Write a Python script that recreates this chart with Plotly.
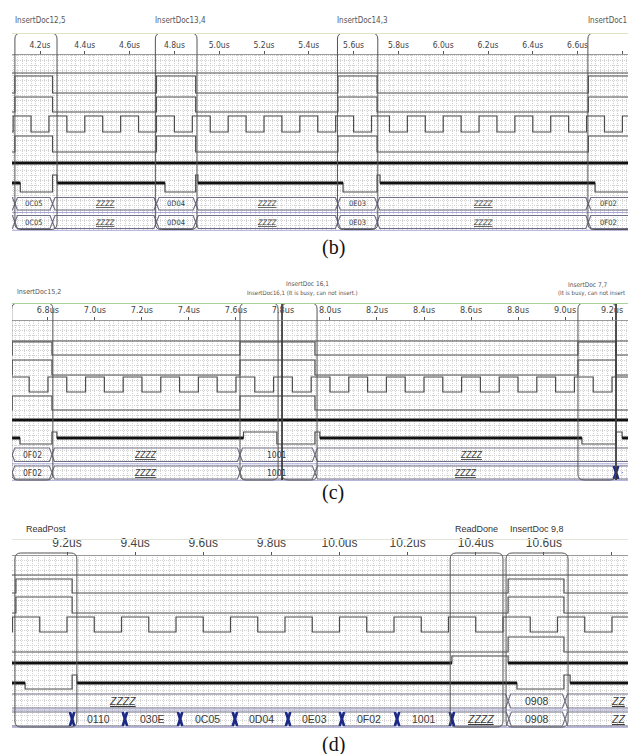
import plotly.graph_objects as go

W, H = 628, 754

# ---------------- data (times in microseconds) ----------------
clock_rise_us = [4.08, 4.24, 4.40, 4.56, 4.72, 4.88, 5.04, 5.20, 5.36, 5.52,
                 5.68, 5.84, 6.00, 6.16, 6.32, 6.48, 6.64, 6.80, 6.96, 7.12,
                 7.28, 7.44, 7.60, 7.76, 7.92, 8.08, 8.24, 8.40, 8.56, 8.72,
                 8.88, 9.04, 9.20, 9.36, 9.52, 9.68, 9.84, 10.00, 10.16, 10.32,
                 10.48, 10.64, 10.80, 10.96]
clock_fall_us = [4.00, 4.16, 4.32, 4.48, 4.64, 4.80, 4.96, 5.12, 5.28, 5.44,
                 5.60, 5.76, 5.92, 6.08, 6.24, 6.40, 6.56, 6.72, 6.88, 7.04,
                 7.20, 7.36, 7.52, 7.68, 7.84, 8.00, 8.16, 8.32, 8.48, 8.64,
                 8.80, 8.96, 9.12, 9.28, 9.44, 9.60, 9.76, 9.92, 10.08, 10.24,
                 10.40, 10.56, 10.72, 10.88]

# panel (b)
b_pulse_start = [4.088, 4.72, 5.53, 6.648]
b_pulse_end = [4.256, 4.895, 5.705]
b_row5_start = [4.088, 4.72, 5.53, 6.648]
b_row5_end = [4.256, 4.895, 5.705]
b_row7_t = [4.112, 4.256, 4.276, 4.758, 4.895, 4.905, 5.553, 5.705, 5.718, 6.678]
b_row7_s = ['L', 'H', 'Z', 'L', 'H', 'Z', 'L', 'H', 'Z', 'L']
b_bus_t = [4.088, 4.256, 4.72, 4.895, 5.53, 5.705, 6.648]
b_bus_labels = ['', '0C05', 'ZZZZ', '0D04', 'ZZZZ', '0E03', 'ZZZZ', '0F02']
b_box_start = [4.088, 4.715, 5.528, 6.646]
b_box_end = [4.276, 4.901, 5.708, 6.90]
b_box_labels = ['InsertDoc12,5', 'InsertDoc13,4', 'InsertDoc14,3', 'InsertDoc1']

# panel (c)
c_pulse_start = [6.648, 7.617, 9.055]
c_pulse_end = [6.817, 7.936, 9.217]
c_row5_start = [6.648, 7.617]
c_row5_end = [6.817, 7.936]
c_row7_t = [6.681, 6.817, 6.838, 7.632, 7.774, 7.936, 7.957, 9.072, 9.217, 9.243]
c_row7_s = ['L', 'H', 'Z', 'H', 'L', 'H', 'Z', 'L', 'H', 'Z']
c_bus1_t = [6.648, 6.817, 7.617, 7.936]
c_bus1_labels = ['', '0F02', 'ZZZZ', '1001', 'ZZZZ']
c_bus2_t = [6.648, 6.817, 7.617, 7.936, 9.217]
c_bus2_labels = ['', '0F02', 'ZZZZ', '1001', 'ZZZZ', '·']
c_box_start = [6.646, 7.617, 7.796, 9.055]
c_box_end = [6.821, 7.779, 7.945, 9.217]
c_cursor_us = [7.796, 9.217]
c_label_texts = ['InsertDoc15,2', 'InsertDoc 16,1',
                 'InsertDoc16,1 (It is busy, can not insert.)',
                 'InsertDoc 7,7', '(It is busy, can not insert']

# panel (d)
d_pulse_start = [9.05, 10.495]
d_pulse_end = [9.215, 10.659]
d_row5_start = [10.495]
d_row5_end = [10.659]
d_row6_t = [10.33, 10.495]
d_row6_s = ['H', 'Z']
d_row7_t = [9.077, 9.215, 9.229, 10.521, 10.659, 10.677]
d_row7_s = ['L', 'H', 'Z', 'L', 'H', 'Z']
d_bus1_t = [10.495, 10.662]
d_bus1_labels = ['ZZZZ', '0908', 'ZZ']
d_bus2_t = [9.215, 9.37, 9.532, 9.693, 9.849, 10.007, 10.169, 10.33, 10.497, 10.662]
d_bus2_labels = ['', '0110', '030E', '0C05', '0D04', '0E03', '0F02', '1001', 'ZZZZ', '0908', 'ZZ']
d_box_start = [9.047, 10.325, 10.489]
d_box_end = [9.229, 10.48, 10.671]
d_box_labels = ['ReadPost', 'ReadDone', 'InsertDoc 9,8']

captions = ['(b)', '(c)', '(d)']

# ---------------- layout geometry (pixels) ----------------
LEFT = 12
PANELS = [
    dict(ax='', t0=4.075, t1=6.825, top=33, base=54, bottom=231, box_top=33, box_bot=229.5,
         row1=73, row2=(76, 93), row3=(97, 112), clk=(116, 132), row5=(136, 152),
         row6=(156, 163, 170), row7=(175, 183, 192), bus1=(197.5, 210), bus2=(215.5, 228.5),
         sep=[212.5, 230.3], minor=0.02, tickfont=8.5, busfont=7.5, topline='#dfe3c4', cap_y=247),
    dict(ax='2', t0=6.647, t1=9.268, top=303, base=320, bottom=481, box_top=303, box_bot=480,
         row1=341, row2=(342, 355), row3=(360, 375), clk=(377, 392), row5=(396, 410),
         row6=(413, 420, 427), row7=(432, 438, 444), bus1=(448, 461.5), bus2=(466, 479),
         sep=[463.8, 480.3], minor=0.02, tickfont=9, busfont=8.5, topline='#a9d39b', cap_y=492),
    dict(ax='3', t0=9.0385, t1=10.847, top=539, base=555, bottom=728, box_top=553, box_bot=727,
         row1=575, row2=(579, 593), row3=(597, 613), clk=(617, 632), row5=(637, 652),
         row6=(656, 663, 670), row7=(675, 683, 689), bus1=(694, 708), bus2=(712, 726),
         sep=[710, 727.3], minor=0.2 / 12, tickfont=12, busfont=10.5, topline='#e4e4d6', cap_y=744),
]
for P in PANELS:
    P['scale'] = (W - LEFT) / (P['t1'] - P['t0'])

THIN = '#4d4d4d'
THICK = '#111111'
BUSC = '#6e6e86'
SEPC = '#a9a9d9'
BLUE = '#1c2a86'
GRID = '#d2d2d2'
GDASH = '1px,1px'
NARROW = 'Liberation Sans Narrow, Arial Narrow, DejaVu Sans Condensed, Liberation Sans, Arial, sans-serif'
SANS = 'Liberation Sans, Arial, sans-serif'

fig = go.Figure()
shapes = []
annotations = []


def px_x(P, t):
    return LEFT + (t - P['t0']) * P['scale']


def ann(xpx, ypx, text, size, color='#444', family=SANS, xanchor='center'):
    annotations.append(dict(x=xpx / W, y=1 - ypx / H, xref='paper', yref='paper', text=text,
                            showarrow=False, xanchor=xanchor, yanchor='middle',
                            font=dict(size=size, color=color, family=family)))


def line(P, x, y, color=THIN, width=1.2, shape='linear'):
    fig.add_trace(go.Scatter(x=x, y=y, mode='lines', line=dict(color=color, width=width, shape=shape),
                             hoverinfo='skip', showlegend=False,
                             xaxis='x' + P['ax'], yaxis='y' + P['ax']))


def digital(P, ts, lvls, init):
    xs = [P['t0'] - 0.5]
    ys = [init]
    for t, l in sorted(zip(ts, lvls)):
        xs.append(t)
        ys.append(l)
    xs.append(P['t1'] + 0.5)
    ys.append(ys[-1])
    return xs, ys


def pulses(P, starts, ends, lv):
    hi, lo = lv
    ts = list(starts) + list(ends)
    ls = [hi] * len(starts) + [lo] * len(ends)
    xs, ys = digital(P, ts, ls, lo)
    line(P, xs, ys, shape='hv')


def tri_level(P, ts, states, lv, init='Z'):
    hi, z, lo = lv
    m = {'H': hi, 'Z': z, 'L': lo}
    xs, ys = digital(P, ts, [m[s] for s in states], m[init])
    line(P, xs, ys, shape='hv')
    bounds = [P['t0'] - 0.5] + list(ts) + [P['t1'] + 0.5]
    seq = [init] + list(states)
    tx, ty = [], []
    for i, s in enumerate(seq):
        if s == 'Z':
            tx += [bounds[i], bounds[i + 1], None]
            ty += [z, z, None]
    line(P, tx, ty, color=THICK, width=3)


def bus(P, trans, labels, rows, blue=(), edge_last=False):
    top, bot = rows
    mid = (top + bot) / 2
    s = 2.5 / P['scale']
    xt, yt, xb, yb = [P['t0'] - 0.5], [top], [P['t0'] - 0.5], [bot]
    for t in trans:
        xt += [t - s, t, t + s]
        yt += [top, mid, top]
        xb += [t - s, t, t + s]
        yb += [bot, mid, bot]
    xt.append(P['t1'] + 0.5)
    yt.append(top)
    xb.append(P['t1'] + 0.5)
    yb.append(bot)
    line(P, xt + [None] + xb, yt + [None] + yb, color=BUSC, width=1.1)
    if blue:
        s2 = 2.2 / P['scale']
        bx, by = [], []
        for i in blue:
            t = trans[i]
            bx += [t - s2, t + s2, None, t - s2, t + s2, None]
            by += [top, bot, None, bot, top, None]
        line(P, bx, by, color=BLUE, width=2.6)
    bnd = [-1e9] + list(trans) + [1e9]
    fam = NARROW if P['ax'] != '3' else SANS
    for i, lab in enumerate(labels):
        if not lab:
            continue
        text = '<i><u>' + lab + '</u></i>' if lab.startswith('ZZ') else lab
        if edge_last and i == len(labels) - 1:
            ann(W - 1, mid, text, P['busfont'], color='#3a3a3a', family=fam, xanchor='right')
            continue
        a = max(bnd[i], P['t0'])
        b = min(bnd[i + 1], P['t1'])
        c = (a + b) / 2
        if P['ax'] == '3' and i == 0 and lab == 'ZZZZ':
            c = 9.362
        ann(px_x(P, c), mid, text, P['busfont'], color='#3a3a3a', family=fam)


def rbox(P, a, b, r=6):
    top, bot = P['box_top'], P['box_bot']
    rx = r / P['scale']
    ry = r
    path = (f"M {a + rx},{top} L {b - rx},{top} Q {b},{top} {b},{top + ry} "
            f"L {b},{bot - ry} Q {b},{bot} {b - rx},{bot} L {a + rx},{bot} "
            f"Q {a},{bot} {a},{bot - ry} L {a},{top + ry} Q {a},{top} {a + rx},{top} Z")
    shapes.append(dict(type='path', path=path, xref='x' + P['ax'], yref='y' + P['ax'],
                       line=dict(color='#555555', width=1), fillcolor='rgba(0,0,0,0)', layer='above'))


def common_rows(P, pstart, pend, r5start, r5end):
    line(P, [P['t0'] - 0.5, P['t1'] + 0.5], [P['row1'], P['row1']])
    pulses(P, pstart, pend, P['row2'])
    pulses(P, pstart, pend, P['row3'])
    ts = clock_rise_us + clock_fall_us
    ls = [P['clk'][0]] * len(clock_rise_us) + [P['clk'][1]] * len(clock_fall_us)
    xs, ys = digital(P, ts, ls, P['clk'][1])
    line(P, xs, ys, shape='hv')
    pulses(P, r5start, r5end, P['row5'])
    for yv in P['sep']:
        line(P, [P['t0'] - 0.5, P['t1'] + 0.5], [yv, yv], color=SEPC, width=1)


Pb, Pc, Pd = PANELS

# ----- panel (b)
common_rows(Pb, b_pulse_start, b_pulse_end, b_row5_start, b_row5_end)
line(Pb, [Pb['t0'] - 0.5, Pb['t1'] + 0.5], [Pb['row6'][1]] * 2, color=THICK, width=3)
tri_level(Pb, b_row7_t, b_row7_s, Pb['row7'])
bus(Pb, b_bus_t, b_bus_labels, Pb['bus1'])
bus(Pb, b_bus_t, b_bus_labels, Pb['bus2'])
for a, b, lab in zip(b_box_start, b_box_end, b_box_labels):
    rbox(Pb, a, b)
    ann(px_x(Pb, a) - 2, 20, lab, 8, color='#555', family=NARROW, xanchor='left')

# ----- panel (c)
common_rows(Pc, c_pulse_start, c_pulse_end, c_row5_start, c_row5_end)
line(Pc, [Pc['t0'] - 0.5, Pc['t1'] + 0.5], [Pc['row6'][1]] * 2, color=THICK, width=3)
tri_level(Pc, c_row7_t, c_row7_s, Pc['row7'])
bus(Pc, c_bus1_t, c_bus1_labels, Pc['bus1'])
bus(Pc, c_bus2_t, c_bus2_labels, Pc['bus2'], blue=(4,))
for a, b in zip(c_box_start, c_box_end):
    rbox(Pc, a, b)
for t in c_cursor_us:
    line(Pc, [t, t], [Pc['box_top'], Pc['box_bot']], color='#222222', width=1.6)
ann(15, 292, c_label_texts[0], 7, color='#555', family=NARROW, xanchor='left')
ann(307, 284, c_label_texts[1], 6.5, color='#555', family=NARROW)
ann(302, 293, c_label_texts[2], 6, color='#555', family=NARROW)
ann(587, 285, c_label_texts[3], 6.5, color='#555', family=NARROW)
ann(W - 1, 293, c_label_texts[4], 6, color='#555', family=NARROW, xanchor='right')

# ----- panel (d)
common_rows(Pd, d_pulse_start, d_pulse_end, d_row5_start, d_row5_end)
tri_level(Pd, d_row6_t, d_row6_s, Pd['row6'])
tri_level(Pd, d_row7_t, d_row7_s, Pd['row7'])
bus(Pd, d_bus1_t, d_bus1_labels, Pd['bus1'], edge_last=True)
bus(Pd, d_bus2_t, d_bus2_labels, Pd['bus2'], blue=tuple(range(8)), edge_last=True)
for a, b, lab in zip(d_box_start, d_box_end, d_box_labels):
    rbox(Pd, a, b)
    ann((px_x(Pd, a) + px_x(Pd, b)) / 2, 529, lab, 9, color='#333')

# ----- axes, headers, captions
layout_axes = {}
for P, cap in zip(PANELS, captions):
    sfx = P['ax']
    layout_axes['xaxis' + sfx] = dict(
        domain=[LEFT / W, 1], range=[P['t0'], P['t1']], anchor='free',
        position=1 - P['base'] / H, side='top',
        tickmode='linear', tick0=0, dtick=0.2, tickformat='.1f', ticksuffix='us',
        ticks='outside', ticklen=3, tickcolor='#555', tickwidth=1,
        showline=True, linecolor='#9a9a9a', linewidth=1,
        tickfont=dict(size=P['tickfont'], color='#444',
                      family=NARROW if sfx != '3' else SANS),
        showgrid=True, gridcolor=GRID, griddash=GDASH, gridwidth=1,
        minor=dict(dtick=P['minor'], tick0=0, showgrid=True, gridcolor=GRID, griddash=GDASH,
                   gridwidth=1, ticks=''),
        zeroline=False, fixedrange=True)
    layout_axes['yaxis' + sfx] = dict(
        domain=[1 - P['bottom'] / H, 1 - P['top'] / H], range=[P['bottom'], P['top']],
        anchor='x' + sfx, showticklabels=False, ticks='', showline=False,
        tickmode='linear', tick0=0, dtick=5,
        showgrid=True, gridcolor=GRID, griddash=GDASH, gridwidth=1,
        zeroline=False, fixedrange=True)
    shapes.append(dict(type='rect', xref='x' + sfx, yref='y' + sfx,
                       x0=P['t0'] - 0.5, x1=P['t1'] + 0.5, y0=P['top'], y1=P['base'],
                       fillcolor='white', line=dict(width=0), layer='between'))
    shapes.append(dict(type='line', xref='paper', yref='paper', x0=LEFT / W, x1=1,
                       y0=1 - (P['top'] + 0.5) / H, y1=1 - (P['top'] + 0.5) / H,
                       line=dict(color=P['topline'], width=1.2), layer='above'))
    ann(333, P['cap_y'], cap, 20, color='#111', family='Liberation Serif, Times New Roman, serif')

fig.update_layout(width=W, height=H, margin=dict(l=0, r=0, t=0, b=0), autosize=False,
                  paper_bgcolor='white', plot_bgcolor='white', showlegend=False,
                  shapes=shapes, annotations=annotations, **layout_axes)

fig.write_html('out.html')
